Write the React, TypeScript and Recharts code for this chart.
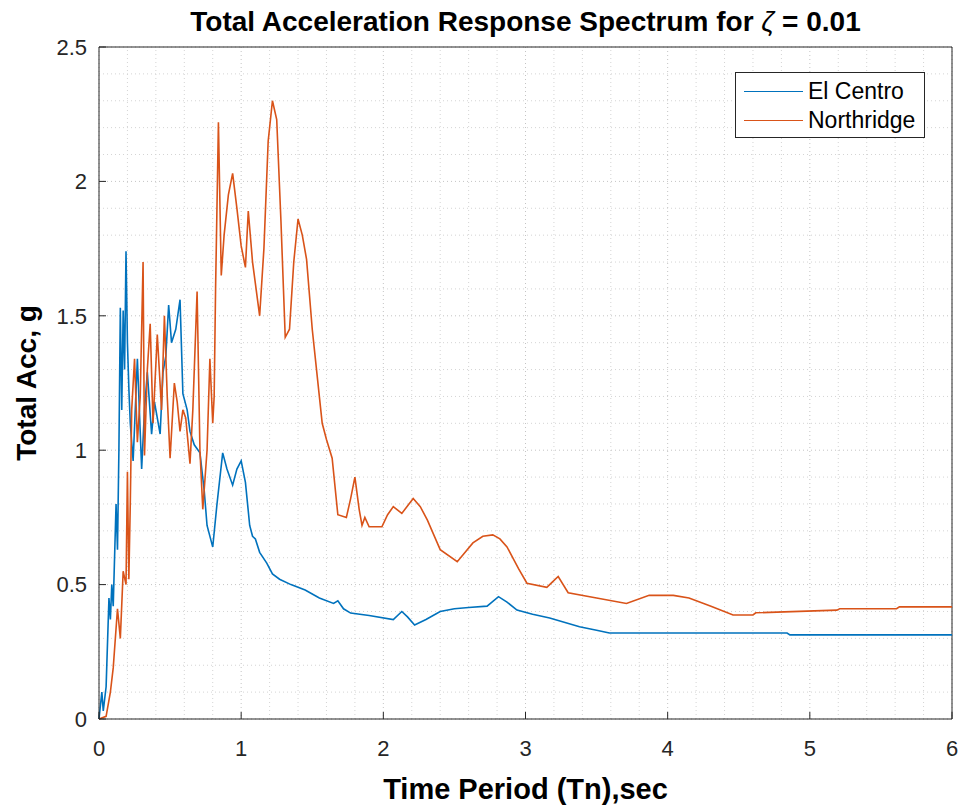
import {
  CartesianGrid,
  Line,
  LineChart,
  ReferenceLine,
  XAxis,
  YAxis,
} from "recharts";

// El Centro (blue)
const elCentroT = [
  0, 0.02, 0.03, 0.05, 0.07, 0.08, 0.09, 0.1, 0.12, 0.13, 0.14, 0.15, 0.16,
  0.17, 0.18, 0.19, 0.2, 0.21, 0.22, 0.24, 0.27, 0.3, 0.32, 0.34, 0.37, 0.39,
  0.41, 0.43, 0.45, 0.47, 0.49, 0.51, 0.54, 0.57, 0.59, 0.62, 0.64, 0.67, 0.71,
  0.74, 0.76, 0.79, 0.8, 0.83, 0.87, 0.9, 0.94, 0.97, 1.0, 1.03, 1.06, 1.08,
  1.1, 1.13, 1.18, 1.22, 1.27, 1.35, 1.45, 1.55, 1.65, 1.68, 1.72, 1.77, 1.9,
  2.07, 2.13, 2.17, 2.22, 2.3, 2.4, 2.5, 2.6, 2.73, 2.81, 2.87, 2.94, 3.05,
  3.17, 3.38, 3.5, 3.59, 4.0, 4.5, 4.84, 4.86, 5.5, 6.0,
];
const elCentroAcc = [
  0, 0.1, 0.03, 0.12, 0.45, 0.37, 0.5, 0.42, 0.8, 0.63, 1.0, 1.53, 1.15, 1.52,
  1.3, 1.74, 1.4, 1.23, 1.1, 0.96, 1.34, 0.93, 1.15, 1.29, 1.06, 1.18, 1.12,
  1.06, 1.29, 1.35, 1.54, 1.4, 1.45, 1.56, 1.21, 1.15, 1.07, 1.02, 0.99, 0.85,
  0.72, 0.66, 0.64, 0.8, 0.99, 0.93, 0.87, 0.93, 0.96, 0.88, 0.72, 0.68, 0.67,
  0.62, 0.58, 0.54, 0.52, 0.5, 0.48, 0.45, 0.43, 0.44, 0.41, 0.394, 0.385,
  0.37, 0.4, 0.38, 0.35, 0.37, 0.4, 0.41, 0.415, 0.42, 0.455, 0.435, 0.405,
  0.39, 0.376, 0.343, 0.33, 0.32, 0.32, 0.32, 0.32, 0.313, 0.313, 0.313,
];

// Northridge (orange)
const northridgeT = [
  0, 0.05, 0.08, 0.1, 0.13, 0.15, 0.17, 0.19, 0.2, 0.21, 0.22, 0.23, 0.25,
  0.27, 0.29, 0.31, 0.32, 0.34, 0.36, 0.38, 0.41, 0.44, 0.46, 0.48, 0.5, 0.53,
  0.55, 0.57, 0.59, 0.61, 0.64, 0.66, 0.69, 0.71, 0.73, 0.76, 0.78, 0.8, 0.81,
  0.82, 0.84, 0.86, 0.88, 0.91, 0.94, 0.97, 1.0, 1.03, 1.05, 1.08, 1.13, 1.16,
  1.19, 1.22, 1.25, 1.28, 1.31, 1.34, 1.37, 1.4, 1.43, 1.46, 1.5, 1.53, 1.57,
  1.6, 1.64, 1.68, 1.74, 1.77, 1.8, 1.83, 1.85, 1.87, 1.9, 1.99, 2.03, 2.07,
  2.13, 2.21, 2.26, 2.31, 2.4, 2.52, 2.63, 2.7, 2.77, 2.82, 2.87, 2.95, 3.01,
  3.15, 3.19, 3.23, 3.3, 3.5, 3.71, 3.87, 4.04, 4.15, 4.3, 4.46, 4.6, 4.62,
  5.19, 5.21, 5.61, 5.63, 6.0,
];
const northridgeAcc = [
  0, 0.01, 0.1, 0.19, 0.41, 0.3, 0.55, 0.5, 0.92, 0.52, 0.8, 1.15, 1.34, 1.03,
  1.2, 1.7, 0.98, 1.3, 1.47, 1.1, 1.43, 1.15, 1.5, 1.2, 0.97, 1.25, 1.18, 1.07,
  1.15, 1.12, 0.95, 1.15, 1.59, 1.0, 0.78, 1.0, 1.34, 1.1, 1.2, 1.6, 2.22,
  1.65, 1.8, 1.95, 2.03, 1.9, 1.76, 1.68, 1.89, 1.7, 1.5, 1.75, 2.15, 2.3,
  2.23, 1.85, 1.42, 1.45, 1.7, 1.86, 1.8, 1.71, 1.45, 1.3, 1.1, 1.04, 0.97,
  0.76, 0.75, 0.82, 0.9, 0.78, 0.72, 0.75, 0.715, 0.715, 0.76, 0.79, 0.765,
  0.82, 0.79, 0.74, 0.63, 0.585, 0.655, 0.68, 0.685, 0.67, 0.64, 0.56, 0.505,
  0.49, 0.51, 0.53, 0.47, 0.45, 0.43, 0.46, 0.46, 0.45, 0.42, 0.387, 0.387,
  0.395, 0.405, 0.41, 0.41, 0.417, 0.417,
];

const xTicks = [0, 1, 2, 3, 4, 5, 6];
const yTicks = [0, 0.5, 1, 1.5, 2, 2.5];
const xMinor = [
  0.2, 0.4, 0.6, 0.8, 1.2, 1.4, 1.6, 1.8, 2.2, 2.4, 2.6, 2.8, 3.2, 3.4, 3.6,
  3.8, 4.2, 4.4, 4.6, 4.8, 5.2, 5.4, 5.6, 5.8,
];
const yMinor = [
  0.1, 0.2, 0.3, 0.4, 0.6, 0.7, 0.8, 0.9, 1.1, 1.2, 1.3, 1.4, 1.6, 1.7, 1.8,
  1.9, 2.1, 2.2, 2.3, 2.4,
];

const elCentroData = elCentroT.map((t, i) => ({ t, acc: elCentroAcc[i] }));
const northridgeData = northridgeT.map((t, i) => ({ t, acc: northridgeAcc[i] }));

const BLUE = "#0072BD";
const ORANGE = "#D95319";
const FONT = "'Liberation Sans', Arial, Helvetica, sans-serif";

const series = [
  { name: "El Centro", color: BLUE },
  { name: "Northridge", color: ORANGE },
];

const LegendBox = () => (
  <div
    style={{
      position: "absolute",
      left: 735,
      top: 72,
      width: 190,
      height: 66,
      boxSizing: "border-box",
      border: "1px solid #262626",
      background: "#fff",
      padding: "4px 0 0 8px",
      fontFamily: FONT,
      fontSize: 23,
      color: "#000",
    }}
  >
    {series.map((s) => (
      <div key={s.name} style={{ display: "flex", alignItems: "center", height: 29 }}>
        <span
          style={{
            display: "inline-block",
            width: 59,
            height: 0,
            borderTop: `1.5px solid ${s.color}`,
            marginRight: 5,
          }}
        />
        {s.name}
      </div>
    ))}
  </div>
);

export default function App() {
  return (
    <div style={{ position: "absolute", left: 0, top: 0, width: 963, height: 812, background: "#fff" }}>
      <LineChart
        width={963}
        height={812}
        margin={{ top: 47, right: 11, bottom: 33, left: 39 }}
        style={{ fontFamily: FONT }}
      >
        <CartesianGrid stroke="#c4c4c4" strokeDasharray="1 3" />
        {xMinor.map((v) => (
          <ReferenceLine key={`x${v}`} x={v} stroke="#d4d4d4" strokeDasharray="1 3" />
        ))}
        {yMinor.map((v) => (
          <ReferenceLine key={`y${v}`} y={v} stroke="#d4d4d4" strokeDasharray="1 3" />
        ))}
        <ReferenceLine x={6} stroke="#262626" />
        <ReferenceLine y={2.5} stroke="#262626" />
        <XAxis
          type="number"
          dataKey="t"
          domain={[0, 6]}
          ticks={xTicks}
          allowDuplicatedCategory={false}
          height={60}
          stroke="#262626"
          tickSize={-7}
          tickMargin={28}
          tick={{ fill: "#262626", fontSize: 22 }}
          label={{
            value: "Time Period (Tn),sec",
            position: "insideBottom",
            offset: -20,
            fill: "#000",
            fontSize: 29,
            fontWeight: "bold",
          }}
        />
        <YAxis
          type="number"
          domain={[0, 2.5]}
          ticks={yTicks}
          width={60}
          stroke="#262626"
          tickSize={-7}
          tickMargin={19}
          tick={{ fill: "#262626", fontSize: 22 }}
          label={{
            value: "Total Acc, g",
            angle: -90,
            position: "insideLeft",
            offset: -13,
            style: { textAnchor: "middle" },
            fill: "#000",
            fontSize: 28,
            fontWeight: "bold",
          }}
        />
        <Line
          data={elCentroData}
          dataKey="acc"
          name="El Centro"
          type="linear"
          stroke={BLUE}
          strokeWidth={1.6}
          dot={false}
          isAnimationActive={false}
        />
        <Line
          data={northridgeData}
          dataKey="acc"
          name="Northridge"
          type="linear"
          stroke={ORANGE}
          strokeWidth={1.6}
          dot={false}
          isAnimationActive={false}
        />
      </LineChart>
      <div
        style={{
          position: "absolute",
          top: 4,
          left: 99,
          width: 853,
          textAlign: "center",
          fontFamily: FONT,
          fontWeight: "bold",
          fontSize: 28,
          lineHeight: "36px",
          color: "#000",
        }}
      >
        Total Acceleration Response Spectrum for <i style={{ fontWeight: "normal" }}>ζ</i> = 0.01
      </div>
      <LegendBox />
    </div>
  );
}
